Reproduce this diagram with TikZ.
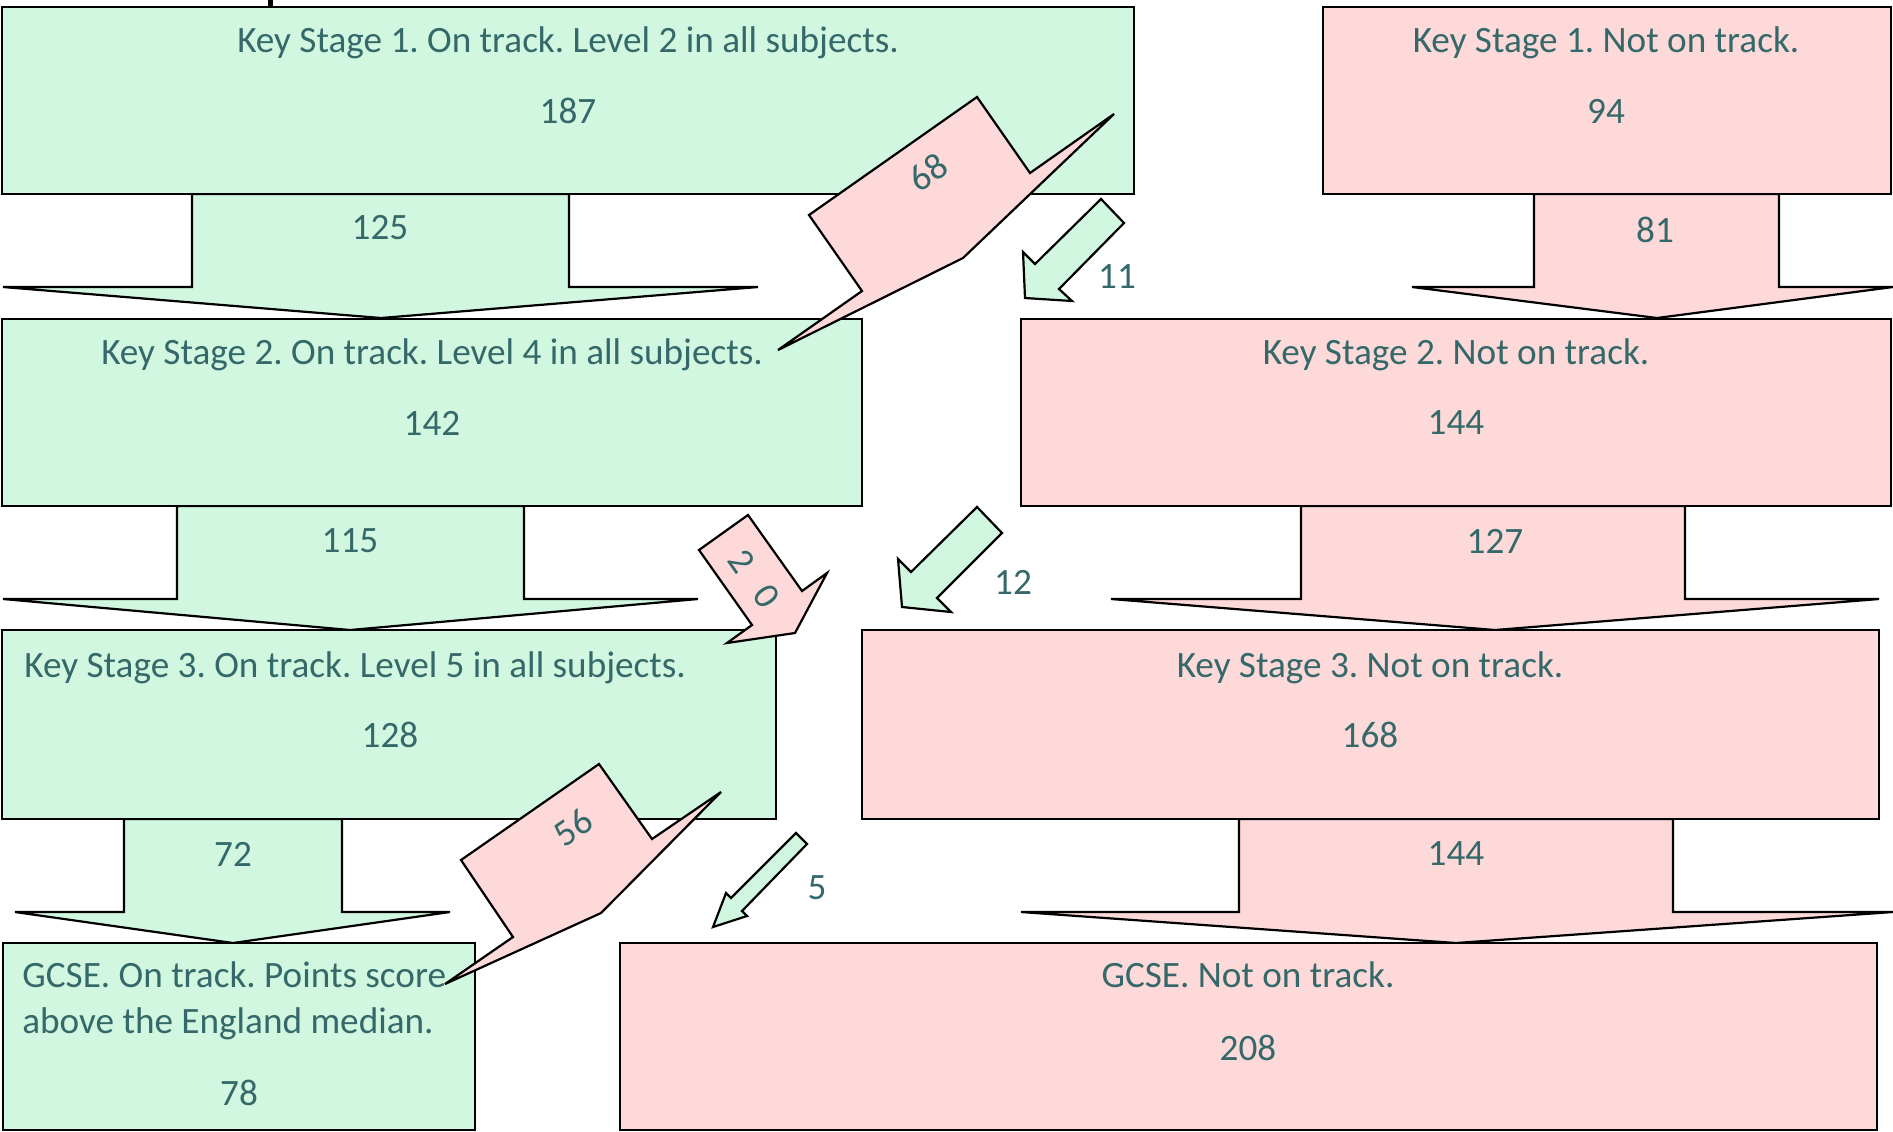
\documentclass[tikz,border=0pt]{standalone}
\usepackage{fontspec}
\setmainfont{Carlito}
\definecolor{ongreen}{HTML}{D2F7E0}
\definecolor{offred}{HTML}{FDD9D9}
\definecolor{lbltxt}{HTML}{356868}

\begin{document}
\frenchspacing
\begin{tikzpicture}[x=0.5pt, y=-0.5pt,
  onbox/.style={draw=black, line width=1.25pt, fill=ongreen, anchor=north west,
                inner sep=0pt, outer sep=0pt},
  offbox/.style={draw=black, line width=1.25pt, fill=offred, anchor=north west,
                 inner sep=0pt, outer sep=0pt},
  onarrow/.style={draw=black, line width=1.1pt, fill=ongreen},
  offarrow/.style={draw=black, line width=1.1pt, fill=offred},
  lbl/.style={font=\fontsize{18.6}{22.5}\selectfont, text=lbltxt, inner sep=0pt},
]
\useasboundingbox (0,0) rectangle (1893,1131);

% cut-off title remnant
\fill (268,0) rectangle (273,6);

% Flow arrows between the stages (drawn below the boxes)
\draw[onarrow]  (192,194) -- (192,287) -- (3,287) -- (381,318) -- (758,287) -- (569,287) -- (569,194) -- cycle;
\draw[offarrow] (1534,194) -- (1534,287) -- (1412,287) -- (1657,318) -- (1893,287) -- (1779,287) -- (1779,194) -- cycle;
\draw[onarrow]  (177,506) -- (177,599) -- (3,599) -- (350,630) -- (698,599) -- (524,599) -- (524,506) -- cycle;
\draw[offarrow] (1301,506) -- (1301,599) -- (1111,599) -- (1495,630) -- (1879,599) -- (1685,599) -- (1685,506) -- cycle;
\draw[onarrow]  (124,819) -- (124,912) -- (15,912) -- (233,943) -- (450,912) -- (342,912) -- (342,819) -- cycle;
\draw[offarrow] (1239,819) -- (1239,912) -- (1021,912) -- (1456,943) -- (1893,912) -- (1673,912) -- (1673,819) -- cycle;

% Stage boxes
\node[onbox,  minimum width=566pt,   minimum height=93.5pt] (ks1on)   at (2,7) {};
\node[offbox, minimum width=284pt,   minimum height=93.5pt] (ks1off)  at (1323,7) {};
\node[onbox,  minimum width=430pt,   minimum height=93.5pt] (ks2on)   at (2,319) {};
\node[offbox, minimum width=435pt,   minimum height=93.5pt] (ks2off)  at (1021,319) {};
\node[onbox,  minimum width=387pt,   minimum height=94.5pt] (ks3on)   at (2,630) {};
\node[offbox, minimum width=508.5pt, minimum height=94.5pt] (ks3off)  at (862,630) {};
\node[onbox,  minimum width=236pt,   minimum height=93.5pt] (gcseon)  at (3,943) {};
\node[offbox, minimum width=628.5pt, minimum height=93.5pt] (gcseoff) at (620,943) {};

% Box texts
\node[lbl, anchor=base] (ks1ontxt)  at (568,52)  {Key Stage 1. On track. Level 2 in all subjects.};
\node[lbl]              (ks1onnum)  at (568,111) {187};
\node[lbl, anchor=base] (ks1offtxt) at (1606,52) {Key Stage 1. Not on track.};
\node[lbl]              (ks1offnum) at (1606,111) {94};
\node[lbl, anchor=base] (ks2ontxt)  at (432,364) {Key Stage 2. On track. Level 4 in all subjects.};
\node[lbl]              (ks2onnum)  at (432,423) {142};
\node[lbl, anchor=base] (ks2offtxt) at (1456,364) {Key Stage 2. Not on track.};
\node[lbl]              (ks2offnum) at (1456,423) {144};
\node[lbl, anchor=base west] (ks3ontxt) at (24,677) {Key Stage 3. On track. Level 5 in all subjects.};
\node[lbl]              (ks3onnum)  at (390,735) {128};
\node[lbl, anchor=base] (ks3offtxt) at (1370,677) {Key Stage 3. Not on track.};
\node[lbl]              (ks3offnum) at (1370,735) {168};
\node[lbl, anchor=base west] (gcseontxta) at (22,987)  {GCSE. On track. Points score};
\node[lbl, anchor=base west] (gcseontxtb) at (22,1033) {above the England median.};
\node[lbl]              (gcseonnum)  at (239,1093) {78};
\node[lbl, anchor=base] (gcseofftxt) at (1248,987) {GCSE. Not on track.};
\node[lbl]              (gcseoffnum) at (1248,1048) {208};

% Arrow counts
\node[lbl] (n125) at (380,228)  {125};
\node[lbl] (n81)  at (1655,230) {81};
\node[lbl] (n115) at (350,541)  {115};
\node[lbl] (n127) at (1495,541) {127};
\node[lbl] (n72)  at (233,854)  {72};
\node[lbl] (n144) at (1456,854) {144};

% Cross-over arrows
\draw[offarrow] (778,350) -- (862,291) -- (809,215) -- (977,97) -- (1030,173) -- (1114,114) -- (963,258) -- cycle;
\node[lbl, rotate=35] (n68) at (928,172) {68};
\draw[onarrow] (1101,199) -- (1124,223) -- (1059,289) -- (1072,301) -- (1025,298) -- (1023,252) -- (1035,264) -- cycle;
\node[lbl] (n11) at (1117,277) {11};

\draw[offarrow] (748,515) -- (699,550) -- (752,625) -- (727,643) -- (795,633) -- (827,573) -- (802,591) -- cycle;
\node[lbl, rotate=-55] (n20) at (754,579) {2\hskip 12pt 0};
\draw[onarrow] (977,507) -- (1002,533) -- (937,598) -- (951,612) -- (902,607) -- (898,559) -- (911,572) -- cycle;
\node[lbl] (n12) at (1013,582) {12};

\draw[offarrow] (445,984) -- (513,937) -- (461,860) -- (599,764) -- (652,839) -- (721,792) -- (601,913) -- cycle;
\node[lbl, rotate=35] (n56) at (573,827) {56};
\draw[onarrow] (796,833) -- (807,844) -- (742,911) -- (747,916) -- (713,927) -- (726,893) -- (731,898) -- cycle;
\node[lbl] (n5) at (817,888) {5};

\end{tikzpicture}
\end{document}
